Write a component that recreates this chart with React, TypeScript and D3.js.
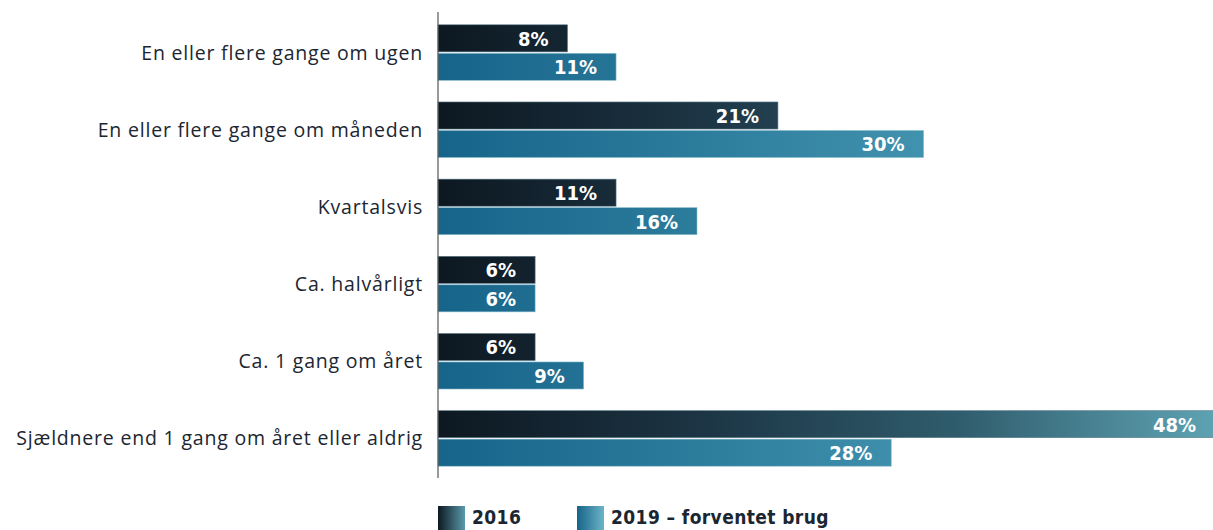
import React, { useEffect, useRef } from "react";
import * as d3 from "d3";

// Data
const categories = [
  "En eller flere gange om ugen",
  "En eller flere gange om måneden",
  "Kvartalsvis",
  "Ca. halvårligt",
  "Ca. 1 gang om året",
  "Sjældnere end 1 gang om året eller aldrig",
];
const values2016 = [8, 21, 11, 6, 6, 48];
const values2019 = [11, 30, 16, 6, 9, 28];
const seriesNames = ["2016", "2019 – forventet brug"];

const App = () => {
  const svgRef = useRef<SVGSVGElement>(null);
  const width = 1213;
  const height = 530;

  useEffect(() => {
    const svg = d3.select(svgRef.current);
    svg.selectAll("*").remove();
    svg.attr("width", width).attr("height", height);

    const x0 = 438;
    const x = d3.scaleLinear().domain([0, 48]).range([x0, 1215]);

    const y = d3
      .scaleBand<string>()
      .domain(categories)
      .range([14, 477])
      .paddingInner(0.28)
      .paddingOuter(0.14);
    const sub = d3
      .scaleBand<string>()
      .domain(seriesNames)
      .range([0, y.bandwidth()])
      .paddingInner(0.05);

    // Gradients (in user space, so longer bars get lighter ends)
    const defs = svg.append("defs");
    const grads = [
      { id: "g2016", stops: ["#0d1821", "#1c3444", "#2f5c6c", "#5ea3b3"] },
      { id: "g2019", stops: ["#17648a", "#2c7c9c", "#4495b0", "#6cb2c6"] },
    ];
    grads.forEach((g) => {
      const lg = defs
        .append("linearGradient")
        .attr("id", g.id)
        .attr("gradientUnits", "userSpaceOnUse")
        .attr("x1", x0)
        .attr("x2", x(48))
        .attr("y1", 0)
        .attr("y2", 0);
      g.stops.forEach((c, i) =>
        lg
          .append("stop")
          .attr("offset", i / (g.stops.length - 1))
          .attr("stop-color", c)
      );
    });
    const legendGrads = [
      { id: "l2016", stops: ["#0d1821", "#5a9aab"] },
      { id: "l2019", stops: ["#17648a", "#6cb4c8"] },
    ];
    legendGrads.forEach((g) => {
      const lg = defs.append("linearGradient").attr("id", g.id);
      g.stops.forEach((c, i) =>
        lg.append("stop").attr("offset", i).attr("stop-color", c)
      );
    });

    const rows = categories.map((c, i) => ({
      category: c,
      bars: [
        { key: seriesNames[0], value: values2016[i], fill: "url(#g2016)", stroke: "#5d7d8c" },
        { key: seriesNames[1], value: values2019[i], fill: "url(#g2019)", stroke: "#8ebfd0" },
      ],
    }));

    const groups = svg
      .selectAll("g.row")
      .data(rows)
      .enter()
      .append("g")
      .attr("class", "row")
      .attr("transform", (d) => `translate(0, ${y(d.category)})`);

    const bars = groups
      .selectAll("g.bar")
      .data((d) => d.bars)
      .enter()
      .append("g")
      .attr("class", "bar");

    bars
      .append("rect")
      .attr("x", x0)
      .attr("y", (d) => sub(d.key) as number)
      .attr("width", (d) => x(d.value) - x0)
      .attr("height", sub.bandwidth())
      .attr("fill", (d) => d.fill)
      .attr("stroke", (d) => d.stroke)
      .attr("stroke-width", 0.6);

    bars
      .append("text")
      .attr("x", (d) => x(d.value) - 19)
      .attr("y", (d) => (sub(d.key) as number) + sub.bandwidth() / 2)
      .attr("dy", "0.37em")
      .attr("text-anchor", "end")
      .style("font-family", "'DejaVu Sans Condensed', 'DejaVu Sans', sans-serif")
      .style("font-weight", "bold")
      .style("font-size", "20px")
      .style("fill", "white")
      .text((d) => `${d.value}%`);

    // Category labels
    groups
      .append("text")
      .attr("x", 423)
      .attr("y", y.bandwidth() / 2)
      .attr("dy", "0.36em")
      .attr("text-anchor", "end")
      .style("font-family", "'Open Sans', sans-serif")
      .style("font-size", "19.5px")
      .style("letter-spacing", "0.8px")
      .style("fill", "#1b2631")
      .text((d) => d.category);

    // Axis line
    svg
      .append("line")
      .attr("x1", x0)
      .attr("x2", x0)
      .attr("y1", 12)
      .attr("y2", 478)
      .attr("stroke", "#555")
      .attr("stroke-width", 1.2);

    // Legend
    const legend = svg
      .selectAll("g.legend")
      .data(seriesNames)
      .enter()
      .append("g")
      .attr("class", "legend")
      .attr("transform", (d, i) => `translate(${[438, 577][i]}, 506)`);

    legend
      .append("rect")
      .attr("width", 27)
      .attr("height", 24)
      .attr("fill", (d, i) => `url(#${legendGrads[i].id})`);

    legend
      .append("text")
      .attr("x", 34)
      .attr("y", 18)
      .style("font-family", "'DejaVu Sans Condensed', 'DejaVu Sans', sans-serif")
      .style("font-weight", "bold")
      .style("font-size", "19px")
      .style("letter-spacing", "0.4px")
      .style("fill", "#1b2631")
      .text((d) => d);
  }, []);

  return (
    <svg
      ref={svgRef}
      style={{ position: "absolute", left: 0, top: 0, display: "block" }}
    ></svg>
  );
};

export default App;
